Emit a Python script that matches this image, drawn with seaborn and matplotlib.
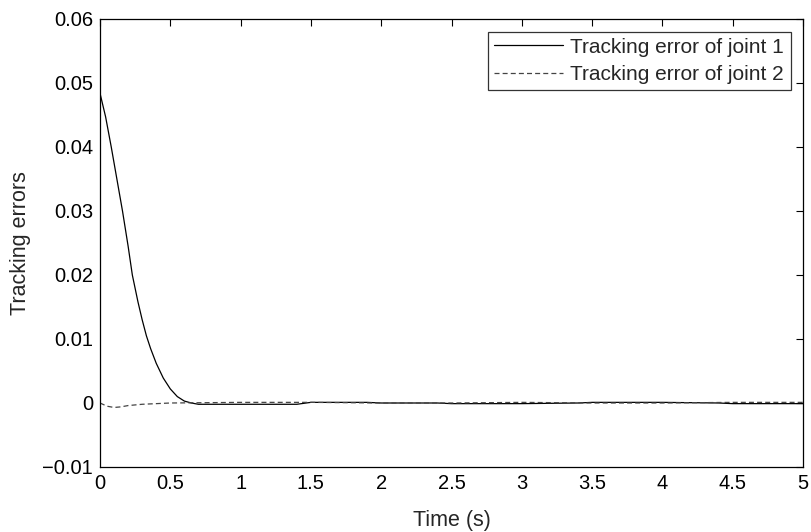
import numpy as np
import pandas as pd
import matplotlib
matplotlib.use("Agg")
import matplotlib.pyplot as plt
import seaborn as sns

# ---- data ----
t_joint1 = [0, 0.04, 0.08, 0.12, 0.16, 0.20, 0.23, 0.27, 0.30, 0.33, 0.36, 0.40, 0.45,
            0.50, 0.55, 0.60, 0.65, 0.70, 1.00, 1.40, 1.50, 1.90, 2.00, 2.40, 2.50,
            3.00, 3.40, 3.50, 4.00, 4.40, 4.50, 5.00]
e_joint1 = [0.0484, 0.0447, 0.0400, 0.0350, 0.0300, 0.0245, 0.0200, 0.0158, 0.0130,
            0.0105, 0.0085, 0.0062, 0.0039, 0.0022, 0.0010, 0.0003, 0.0000, -0.0002,
            -0.0002, -0.0002, 0.0001, 0.0001, 0.0000, 0.0000, -0.0001, -0.0001, 0.0000,
            0.0001, 0.0001, 0.0000, -0.0001, -0.0001]
t_joint2 = [0, 0.05, 0.10, 0.15, 0.20, 0.30, 0.40, 0.50, 1.00, 1.50, 2.00, 2.50, 3.00,
            3.50, 4.00, 4.50, 5.00]
e_joint2 = [0.0, -0.0005, -0.0007, -0.0006, -0.0004, -0.0002, -0.0001, 0.0, 0.0001,
            0.0001, 0.0, 0.0, 0.0001, 0.0, 0.0, 0.0001, 0.0001]

series_names = ["Tracking error of joint 1", "Tracking error of joint 2"]
x_ticks = [0, 0.5, 1, 1.5, 2, 2.5, 3, 3.5, 4, 4.5, 5]
x_tick_labels = ["0", "0.5", "1", "1.5", "2", "2.5", "3", "3.5", "4", "4.5", "5"]
y_ticks = [-0.01, 0, 0.01, 0.02, 0.03, 0.04, 0.05, 0.06]
y_tick_labels = ["\u22120.01", "0", "0.01", "0.02", "0.03", "0.04", "0.05", "0.06"]

df = pd.concat([
    pd.DataFrame({"t": t_joint1, "e": e_joint1, "series": series_names[0]}),
    pd.DataFrame({"t": t_joint2, "e": e_joint2, "series": series_names[1]}),
], ignore_index=True)

sns.set_theme(style="white")
plt.rcParams["font.family"] = ["Liberation Sans", "DejaVu Sans"]

fig = plt.figure(figsize=(8.11, 5.32), dpi=100)
ax = fig.add_axes([100 / 811, (532 - 467) / 532, (803 - 100) / 811, (467 - 19) / 532])

sns.lineplot(data=df, x="t", y="e", hue="series", style="series",
             palette={series_names[0]: "#000000", series_names[1]: "#444444"},
             dashes={series_names[0]: "", series_names[1]: (4, 2.5)},
             linewidth=0.9, estimator=None, sort=False, ax=ax)

ax.set_xlim(0, 5)
ax.set_ylim(-0.01, 0.06)
ax.set_xticks(x_ticks)
ax.set_xticklabels(x_tick_labels)
ax.set_yticks(y_ticks)
ax.set_yticklabels(y_tick_labels)
ax.tick_params(direction="in", length=5, width=0.8, top=True, right=True,
               labelsize=14.5, colors="black", pad=5)
for s in ax.spines.values():
    s.set_color("black")
    s.set_linewidth(0.9)
ax.set_xlabel("Time (s)", fontsize=15.5, labelpad=12)
ax.set_ylabel("Tracking errors", fontsize=15.5, labelpad=8)

leg = ax.legend(loc="upper right", fontsize=15, frameon=True, fancybox=False,
                edgecolor="black", handlelength=3.3, borderaxespad=0.6,
                handletextpad=0.35, borderpad=0.3, labelspacing=0.4)
leg.get_frame().set_linewidth(0.9)
leg.set_title(None)

fig.savefig("out.png", dpi=100)
